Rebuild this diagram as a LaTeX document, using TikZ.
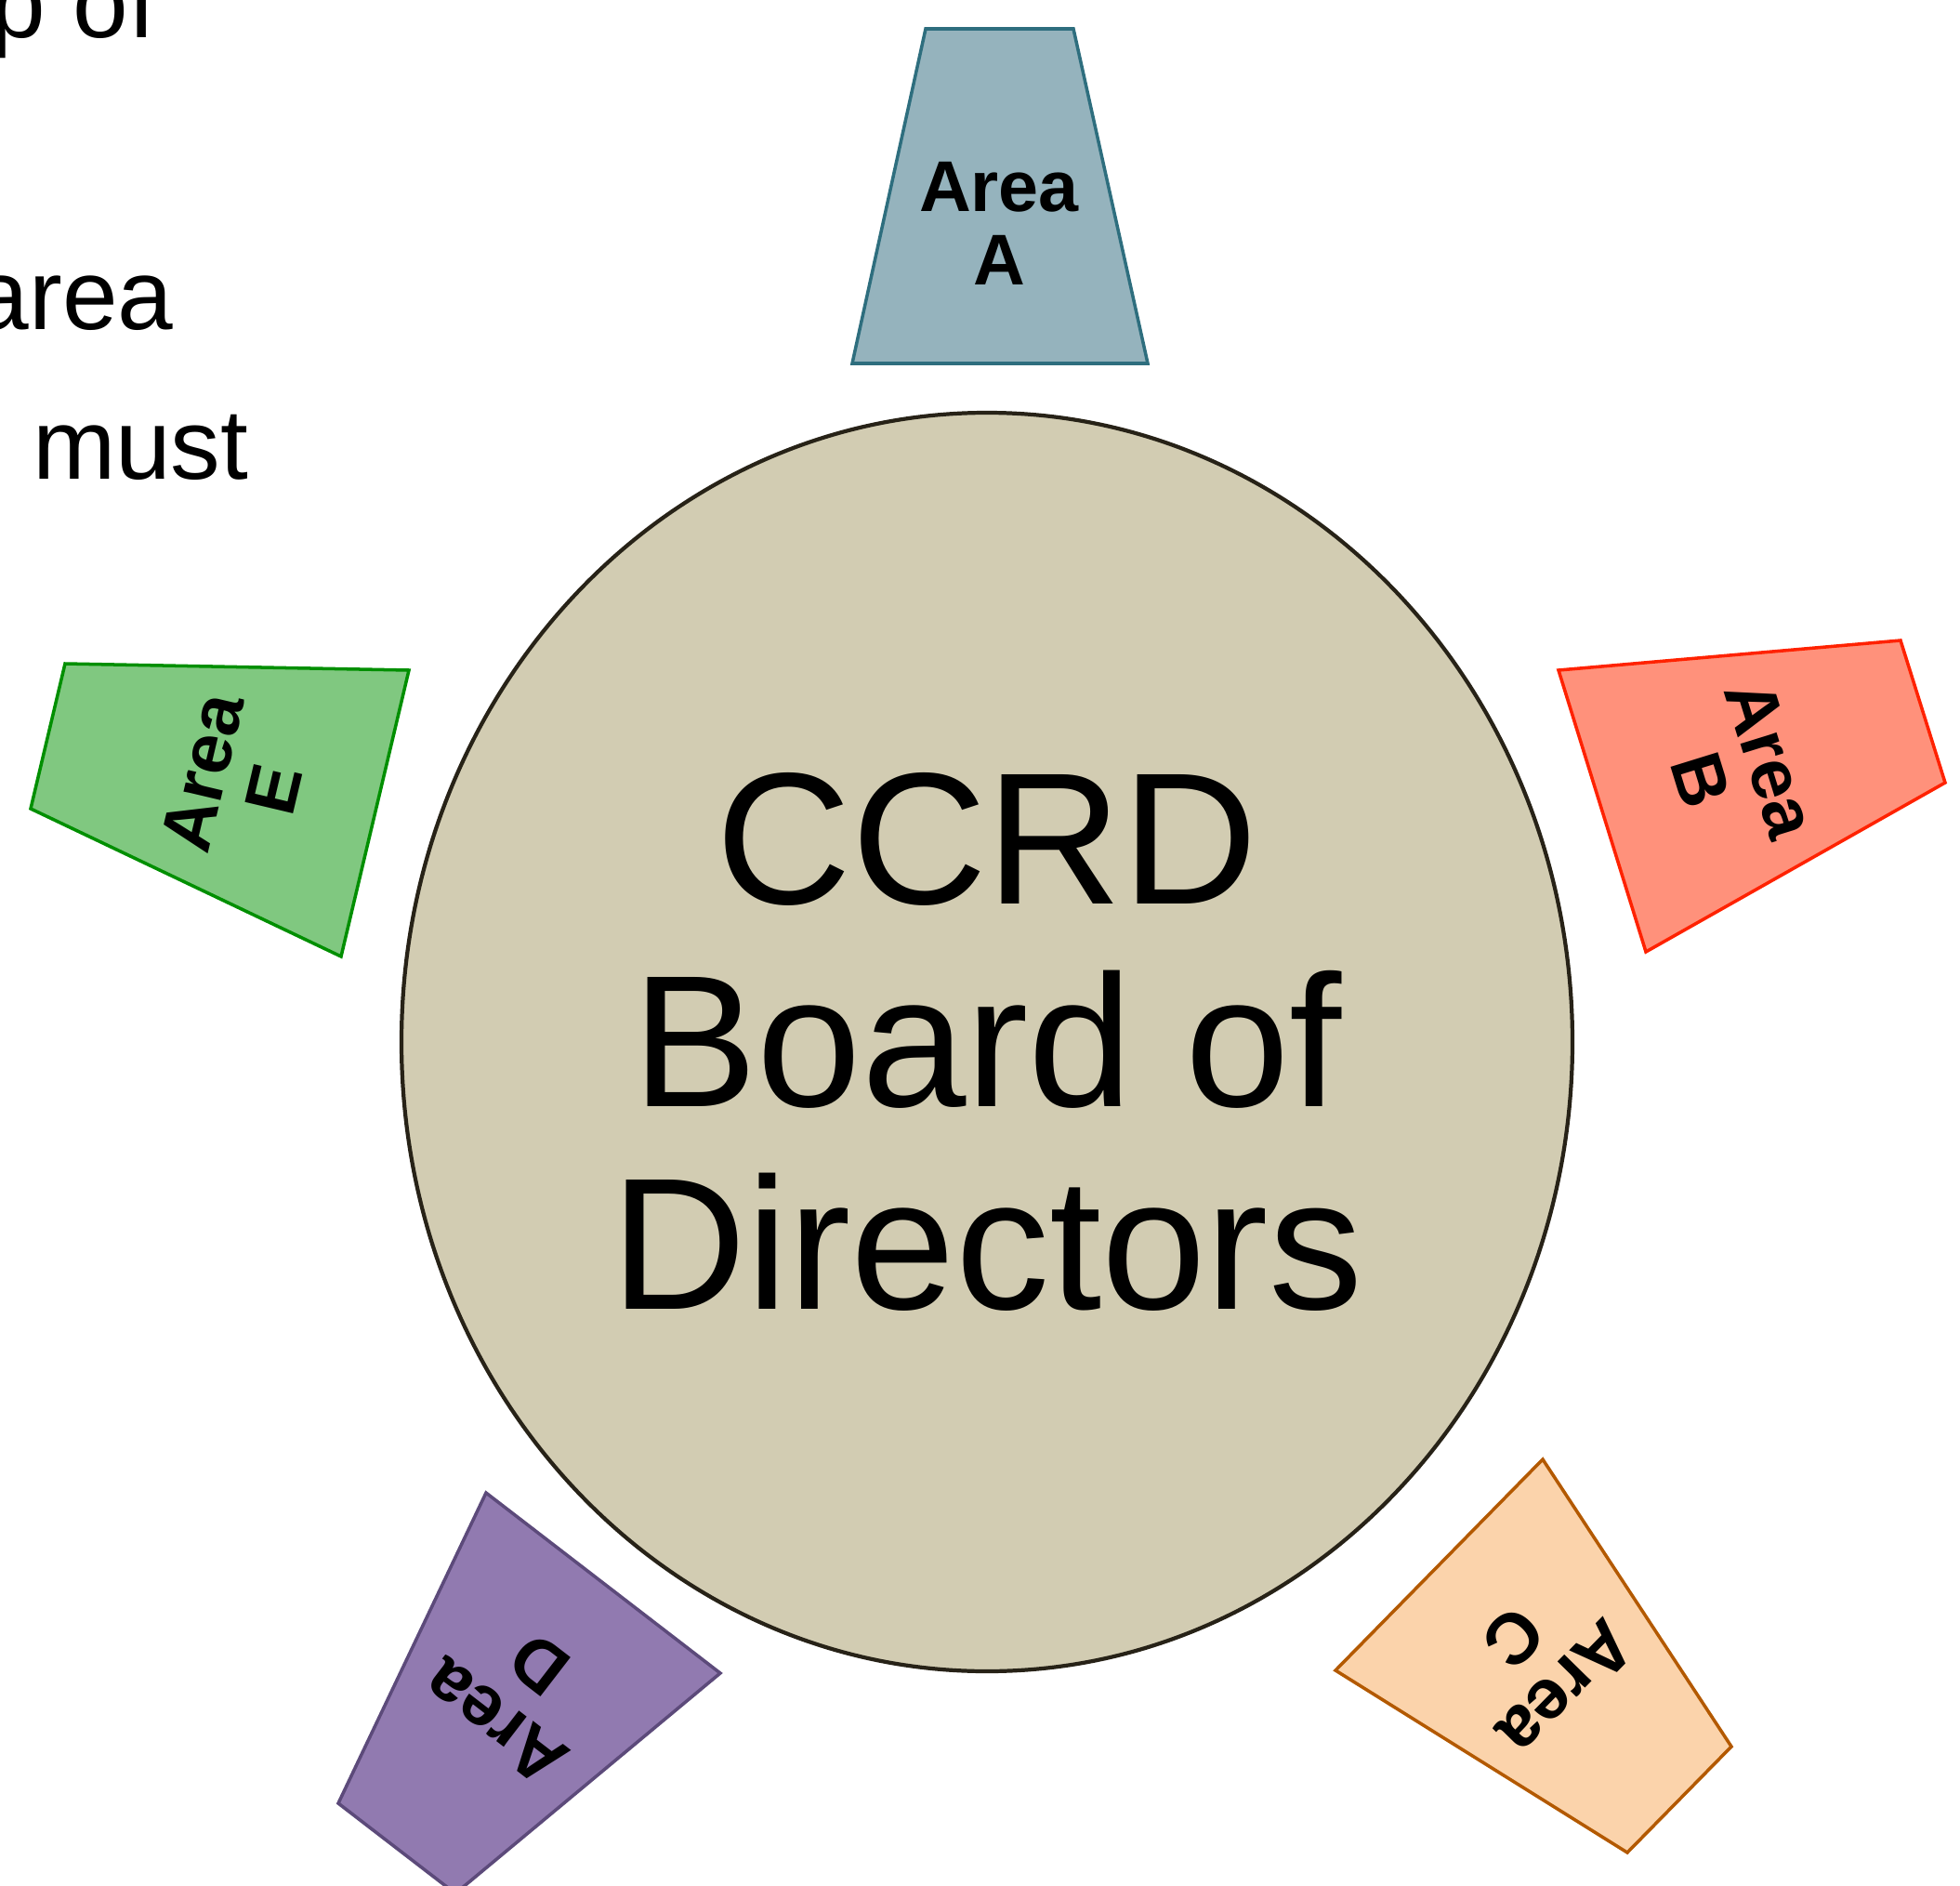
\documentclass[tikz,border=0pt]{standalone}
\usepackage{fontspec}
\setmainfont{Liberation Sans}
\usetikzlibrary{shapes.geometric}
\definecolor{boardfill}{HTML}{D2CCB2}
\definecolor{boardline}{HTML}{272217}
\definecolor{afill}{HTML}{95B3BD}
\definecolor{aline}{HTML}{2E6E7E}
\definecolor{bfill}{HTML}{FF917B}
\definecolor{bline}{HTML}{FF2200}
\definecolor{cfill}{HTML}{FBD3AB}
\definecolor{cline}{HTML}{B35900}
\definecolor{dfill}{HTML}{917AB0}
\definecolor{dline}{HTML}{5C4A7A}
\definecolor{efill}{HTML}{80C880}
\definecolor{eline}{HTML}{008F00}
\tikzstyle{board}=[ellipse, draw=boardline, fill=boardfill, line width=1.2pt, minimum width=12.6cm, minimum height=13.54cm, align=center, font=\fontsize{57.5}{62}\selectfont]
\tikzstyle{area shape}=[line width=1pt]
\tikzstyle{area label}=[align=center, inner sep=0, font=\fontsize{22}{22.5}\selectfont\bfseries]
\tikzstyle{slide text}=[anchor=base east, inner sep=0, font=\fontsize{30.5}{45}\selectfont]

\begin{document}
\begin{tikzpicture}
    \useasboundingbox (0, 0) rectangle (21.09, -20.29);
    \clip (0, 0) rectangle (21.09, -20.29);

    \node[slide text] (txt_pof) at (1.69, -0.40) {p of};
    \node[slide text] (txt_area) at (1.87, -3.54) {area};
    \node[slide text] (txt_must) at (2.68, -5.15) {must};

    \node[board] (board) at (10.62, -11.21) {CCRD\\Board of\\Directors};

    \draw[area shape, draw=aline, fill=afill]
      (9.96, -0.31) -- (11.55, -0.31) -- (12.35, -3.91) -- (9.17, -3.91) -- cycle;
    \draw[area shape, draw=bline, fill=bfill]
      (16.77, -7.21) -- (20.45, -6.89) -- (20.93, -8.42) -- (17.71, -10.24) -- cycle;
    \draw[area shape, draw=cline, fill=cfill]
      (16.60, -15.70) -- (18.63, -18.79) -- (17.51, -19.93) -- (14.37, -17.97) -- cycle;
    \draw[area shape, draw=dline, fill=dfill]
      (5.23, -16.06) -- (7.75, -18.00) -- (4.90, -20.37) -- (3.64, -19.40) -- cycle;
    \draw[area shape, draw=eline, fill=efill]
      (0.70, -7.14) -- (4.40, -7.21) -- (3.67, -10.29) -- (0.33, -8.70) -- cycle;

    \node[area label] (area_A) at (10.75, -2.40) {Area\\A};
    \node[area label, rotate=-72.8] (area_B) at (18.68, -8.28) {Area\\B};
    \node[area label, rotate=-134.5] (area_C) at (16.57, -17.89) {Area\\C};
    \node[area label, rotate=142.4] (area_D) at (5.56, -18.22) {Area\\D};
    \node[area label, rotate=76.7] (area_E) at (2.56, -8.40) {Area\\E};
  \end{tikzpicture}
\end{document}
